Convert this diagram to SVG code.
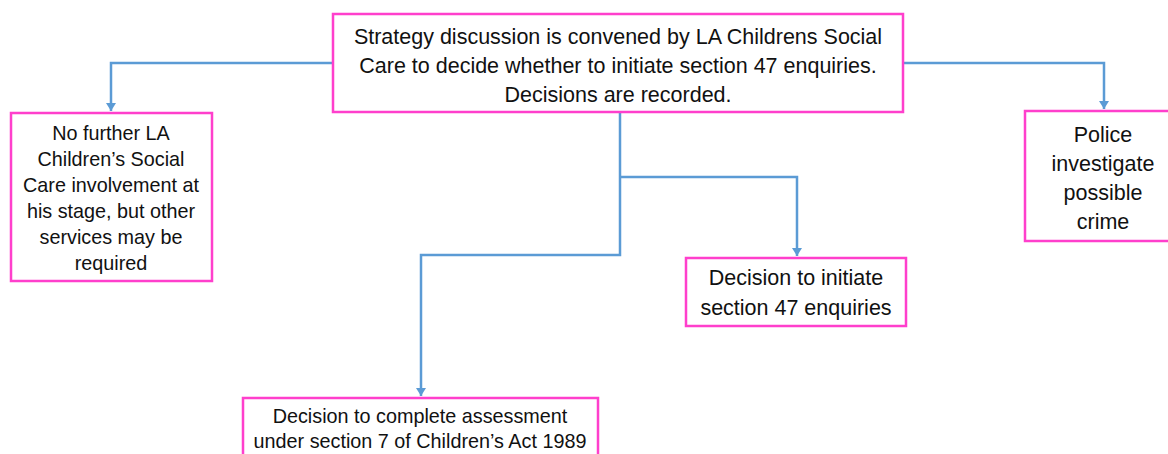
<svg xmlns="http://www.w3.org/2000/svg" width="1168" height="454" viewBox="0 0 1168 454">
<defs>
<style>
.box{fill:#fff;stroke:#ff3fcc;stroke-width:2.5}
.t{font-family:"Liberation Sans",Arial,sans-serif;fill:#111;text-anchor:middle}
.l{font-size:21.5px}
.s{font-size:19.8px}
.c{fill:none;stroke:#5b9bd5;stroke-width:2.5}
</style>
<marker id="arw" markerWidth="10" markerHeight="10" refX="8" refY="5" orient="auto" markerUnits="userSpaceOnUse" viewBox="0 0 10 10">
<path d="M0,0 L8,5 L0,10 Z" fill="#5b9bd5"/>
</marker>
</defs>
<rect width="1168" height="454" fill="#fff"/>
<g id="connectors">
<path class="c" d="M333,63 H111 V111" marker-end="url(#arw)"/>
<path class="c" d="M903,63 H1104 V109" marker-end="url(#arw)"/>
<path class="c" d="M620,112 V255 H421 V396" marker-end="url(#arw)"/>
<path class="c" d="M620,177 H797 V256" marker-end="url(#arw)"/>
</g>
<g id="n-strategy">
<rect class="box" x="333" y="14" width="570" height="98"/>
<text class="t l" x="618" y="44">Strategy discussion is convened by LA Childrens Social</text>
<text class="t l" x="618" y="73">Care to decide whether to initiate section 47 enquiries.</text>
<text class="t l" x="618" y="102">Decisions are recorded.</text>
</g>
<g id="n-nofurther">
<rect class="box" x="11" y="113" width="201" height="168"/>
<text class="t s" x="111" y="140">No further LA</text>
<text class="t s" x="111" y="166">Children’s Social</text>
<text class="t s" x="111" y="192">Care involvement at</text>
<text class="t s" x="111" y="218">his stage, but other</text>
<text class="t s" x="111" y="244">services may be</text>
<text class="t s" x="111" y="270">required</text>
</g>
<g id="n-police">
<rect class="box" x="1025" y="111" width="150" height="130"/>
<text class="t l" x="1103" y="142">Police</text>
<text class="t l" x="1103" y="171">investigate</text>
<text class="t l" x="1103" y="200">possible</text>
<text class="t l" x="1103" y="229">crime</text>
</g>
<g id="n-initiate">
<rect class="box" x="686" y="258" width="220" height="68"/>
<text class="t l" x="796" y="285">Decision to initiate</text>
<text class="t l" x="796" y="315">section 47 enquiries</text>
</g>
<g id="n-assessment">
<rect class="box" x="243" y="398" width="355" height="70"/>
<text class="t s" x="420" y="423">Decision to complete assessment</text>
<text class="t s" x="420" y="448">under section 7 of Children’s Act 1989</text>
</g>
</svg>
